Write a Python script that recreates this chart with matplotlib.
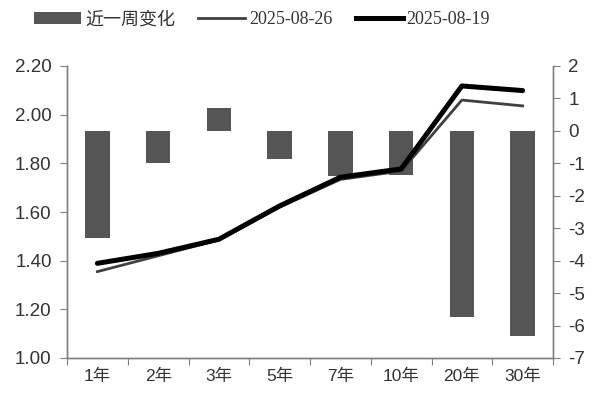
import matplotlib
matplotlib.use("Agg")
import matplotlib.pyplot as plt
import numpy as np
from matplotlib.patches import Patch
from matplotlib.lines import Line2D

categories = ["1年", "2年", "3年", "5年", "7年", "10年", "20年", "30年"]
change_bp = [-3.3, -1.0, 0.7, -0.86, -1.4, -1.37, -5.75, -6.33]
y_0826 = [1.355, 1.42, 1.485, 1.62, 1.734, 1.768, 2.06, 2.036]
y_0819 = [1.389, 1.43, 1.488, 1.625, 1.743, 1.777, 2.118, 2.099]

label_bar = "近一周变化"
label_a = "2025-08-26"
label_b = "2025-08-19"

cjk = ["Liberation Sans", "Noto Sans CJK SC"]
txt_color = "#333333"
spine_color = "#7f7f7f"

fig = plt.figure(figsize=(6, 3.99), dpi=100)
ax = fig.add_axes([67/600, 1-358/399, (553-67)/600, (358-66)/399])
ax2 = ax.twinx()

x = np.arange(len(categories))
ax2.bar(x, change_bp, width=0.4, color="#555555", zorder=1)
ax.set_zorder(ax2.get_zorder() + 1)
ax.patch.set_visible(False)
ax.plot(x, y_0826, color="#404040", lw=2.0, zorder=3)
ax.plot(x, y_0819, color="#000000", lw=3.6, zorder=4, solid_capstyle="round")

ax.set_xlim(-0.5, len(categories) - 0.5)
ax.set_ylim(1.0, 2.2)
ax2.set_ylim(-7, 2)
ax.set_yticks(np.arange(1.0, 2.21, 0.2))
ax.set_yticklabels([f"{v:.2f}" for v in np.arange(1.0, 2.21, 0.2)])
ax2.set_yticks(np.arange(-7, 3, 1))
ax2.set_yticklabels([str(v) for v in range(-7, 3)])

ax.set_xticks(np.arange(-0.5, len(categories), 1.0), minor=False)
ax.set_xticklabels([])
ax.set_xticks(x, minor=True)
ax.set_xticklabels(categories, minor=True, fontfamily=cjk, fontsize=12.5, color=txt_color)
ax.tick_params(axis="x", which="minor", length=0, pad=8)
ax.tick_params(axis="x", which="major", length=5, color=spine_color, direction="out")

for a in (ax, ax2):
    for s in a.spines.values():
        s.set_color(spine_color)
        s.set_linewidth(1.0)
    a.spines["top"].set_visible(False)
ax.tick_params(axis="y", length=5, color=spine_color, labelsize=13.5, labelcolor=txt_color, pad=6)
ax2.tick_params(axis="y", length=5, color=spine_color, labelsize=13.5, labelcolor=txt_color, pad=6)
for lab in ax.get_yticklabels() + ax2.get_yticklabels():
    lab.set_fontfamily("Liberation Sans")

handles = [Patch(facecolor="#555555", edgecolor="none"),
           Line2D([0], [0], color="#404040", lw=2.0),
           Line2D([0], [0], color="#000000", lw=3.6)]
leg = fig.legend(handles, [label_bar, label_a, label_b], loc="center",
                 bbox_to_anchor=(0.437, 0.95), ncol=3, frameon=False,
                 handlelength=2.6, handletextpad=0.2, columnspacing=1.3,
                 prop={"family": ["Liberation Serif", "Noto Sans CJK SC"], "size": 13})
for t in leg.get_texts():
    t.set_color(txt_color)

fig.savefig("out.png", dpi=100)
